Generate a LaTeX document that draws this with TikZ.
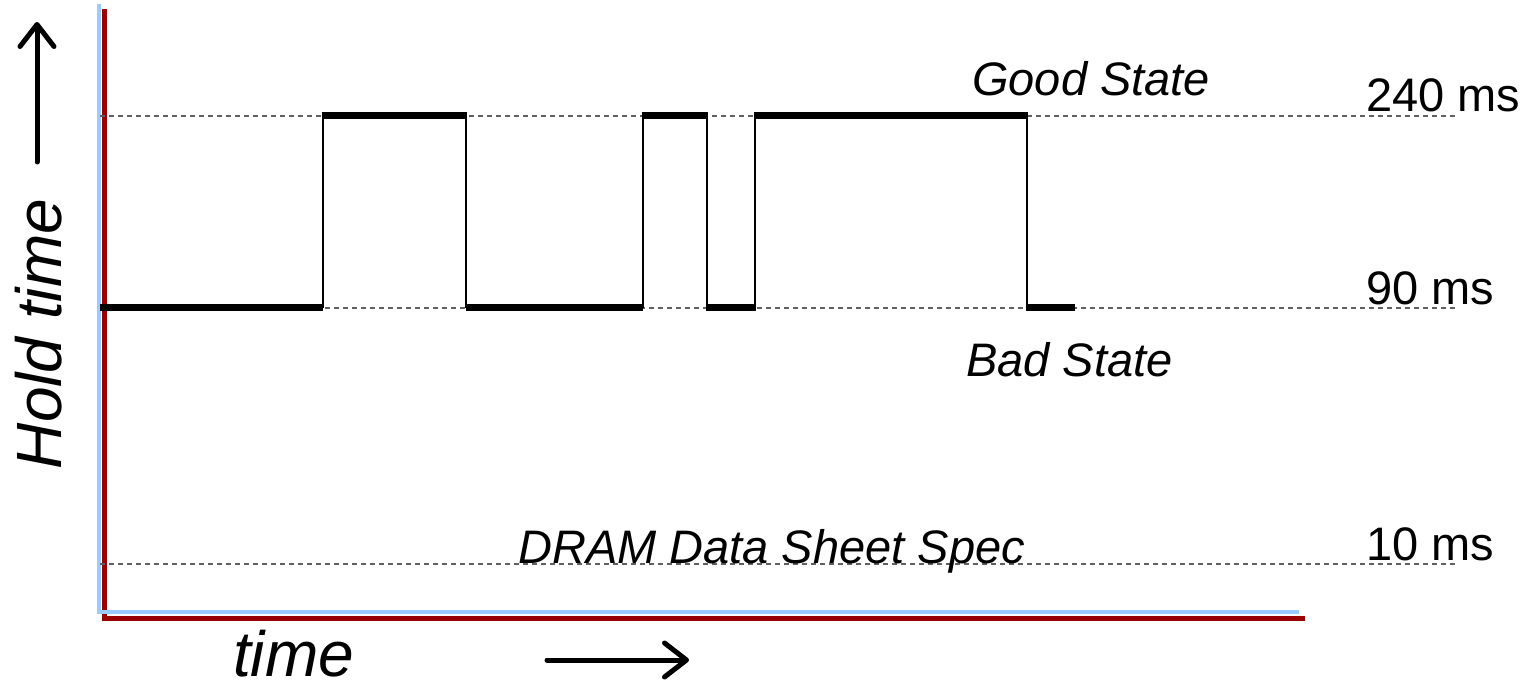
\documentclass[tikz,border=0pt]{standalone}
\usepackage{fontspec}
\setmainfont{Liberation Sans}
\usetikzlibrary{arrows.meta}
\definecolor{axisblue}{HTML}{99CCFF}
\definecolor{axisred}{HTML}{990000}
\definecolor{guide}{HTML}{606060}
\begin{document}
\begin{tikzpicture}[x=1pt,y=-1pt,
  lbl/.style={font=\fontsize{47}{50}\selectfont, inner sep=0pt, anchor=base west},
  ilbl/.style={lbl, font=\fontsize{47}{50}\selectfont\itshape},
  axlbl/.style={inner sep=0pt, font=\fontsize{64}{68}\selectfont\itshape},
  guideline/.style={guide, line width=1.3pt, dash pattern=on 5pt off 4pt},
  level/.style={line width=6.5pt, line cap=butt},
  edge/.style={line width=2.5pt},
  bigarrow/.style={line width=5pt, line cap=round, -{Straight Barb[length=22pt,width=34pt,line cap=round,line join=round]}}]
\useasboundingbox (0,0) rectangle (1528,687);

% axes: red frame underneath, light blue on top
\draw[axisred, line width=5pt] (104.5,9) -- (104.5,620);
\draw[axisred, line width=5pt] (102,618) -- (1305,618);
\draw[axisblue, line width=4pt] (99,4) -- (99,612);
\draw[axisblue, line width=4pt] (97,612) -- (1299,612);

% reference levels
\coordinate (g0) at (100,116);  \coordinate (g1) at (1458,116);
\coordinate (b0) at (100,308);  \coordinate (b1) at (1458,308);
\coordinate (s0) at (100,564);  \coordinate (s1) at (1458,564);
\draw[guideline] (g0) -- (g1);
\draw[guideline] (b0) -- (b1);
\draw[guideline] (s0) -- (s1);

% hold-time trace
\def\lo{307.5}
\def\hi{115.5}
\draw[level] (100,\lo) -- (323,\lo);
\draw[level] (321.5,\hi) -- (467,\hi);
\draw[level] (465.5,\lo) -- (643,\lo);
\draw[level] (641.5,\hi) -- (708,\hi);
\draw[level] (706,\lo) -- (756,\lo);
\draw[level] (754,\hi) -- (1028,\hi);
\draw[level] (1026,\lo) -- (1075,\lo);
\draw[edge] (323,\lo) -- (323,\hi);
\draw[edge] (466,\hi) -- (466,\lo);
\draw[edge] (643,\lo) -- (643,\hi);
\draw[edge] (707,\hi) -- (707,\lo);
\draw[edge] (755,\lo) -- (755,\hi);
\draw[edge] (1027,\hi) -- (1027,\lo);

% labels
\node[ilbl] (good) at (972,96) {Good State};
\node[ilbl] (bad) at (966,376) {Bad State};
\node[ilbl] (spec) at (518,563) {DRAM Data Sheet Spec};
\node[lbl] (t240) at (1366,112) {240 ms};
\node[lbl] (t90) at (1366,304) {90 ms};
\node[lbl] (t10) at (1366,560) {10 ms};

% axis titles with arrows
\node[axlbl, rotate=90, anchor=base] (ylab) at (61,334) {Hold time};
\coordinate (ya0) at (37,162);
\coordinate (ya1) at (37,22);
\draw[bigarrow] (ya0) -- (ya1);
\node[axlbl, anchor=base west] (xlab) at (233,676) {time};
\coordinate (xa0) at (547,660);
\coordinate (xa1) at (689,660);
\draw[bigarrow] (xa0) -- (xa1);
\end{tikzpicture}
\end{document}
